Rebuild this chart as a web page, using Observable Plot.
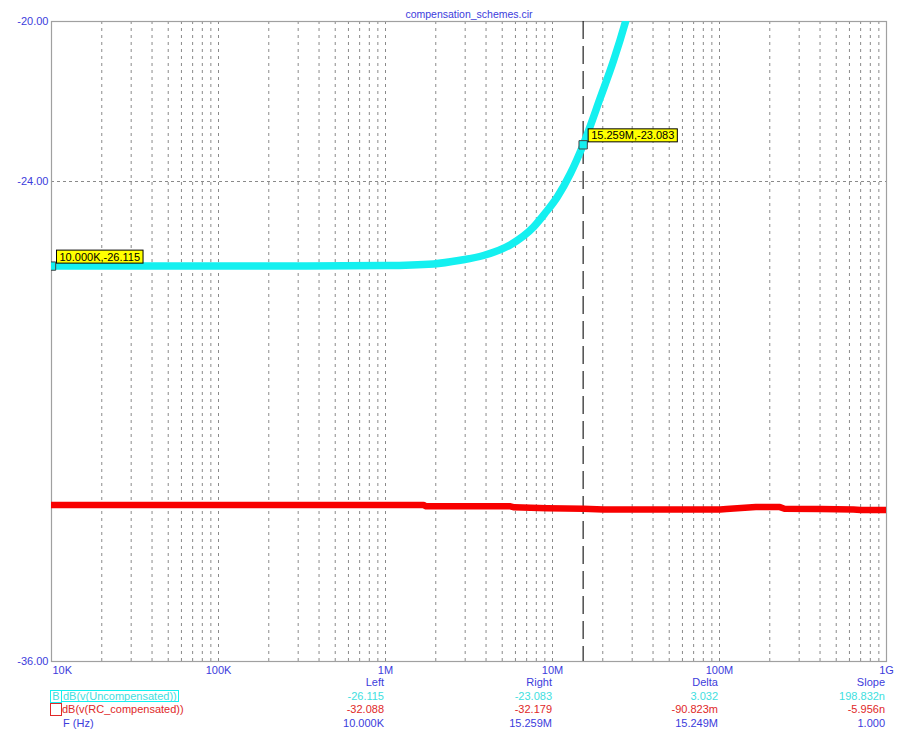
<!DOCTYPE html>
<html>
<head>
<meta charset="utf-8">
<script src="https://cdn.jsdelivr.net/npm/d3@7"></script>
<script src="https://cdn.jsdelivr.net/npm/@observablehq/plot@0.6"></script>
<style>
  html, body { margin: 0; padding: 0; background: #fff; }
  #wrap { position: relative; width: 919px; height: 747px; font-family: "Liberation Sans", Arial, sans-serif; font-size: 11px; }
  #wrap svg { display: block; }
  .lg { position: absolute; line-height: 14px; white-space: nowrap; }
</style>
</head>
<body>
<div id="wrap"></div>
<script>
// ---- data ----
const title = "compensation_schemes.cir";

const uncompFreq = [1e4, 3e4, 1e5, 3e5, 1e6, 1.94e6, 2.8e6, 3.86e6, 5.61e6, 7.69e6, 9.0e6, 10.67e6, 12.8e6, 15.259e6, 19.4e6, 23.2e6, 27.4e6, 30e6];
const uncompDb   = [-26.115, -26.115, -26.115, -26.112, -26.10, -26.06, -25.97, -25.85, -25.58, -25.14, -24.80, -24.39, -23.80, -23.083, -21.89, -20.98, -20.0, -19.4];

const rcFreq = [1e4, 1e5, 1e6, 1.69e6, 1.75e6, 5.6e6, 5.9e6, 9.3e6, 15.259e6, 20.2e6, 60e6, 101e6, 110e6, 165e6, 230e6, 245e6, 400e6, 634e6, 700e6, 1e9];
const rcDb   = [-32.088, -32.088, -32.088, -32.088, -32.12, -32.12, -32.145, -32.17, -32.179, -32.20, -32.20, -32.20, -32.19, -32.14, -32.14, -32.18, -32.19, -32.20, -32.21, -32.21];

const xTickValues = [1e4, 1e5, 1e6, 1e7, 1e8, 1e9];
const xTickLabels = ["10K", "100K", "1M", "10M", "100M", "1G"];
const yTickValues = [-20, -24, -36];
const yGridValues = [-24];
const gridMultiples = [2, 3, 4, 5, 6, 7, 8, 9, 10];
const gridDecades = [1e4, 1e5, 1e6, 1e7, 1e8];

const cursorLeft = {f: 10.000e3, db: -26.115, label: "10.000K,-26.115"};
const cursorRight = {f: 15.259e6, db: -23.083, label: "15.259M,-23.083"};

const legendHeaders = ["Left", "Right", "Delta", "Slope"];
const legendUncomp = ["-26.115", "-23.083", "3.032", "198.832n"];
const legendRC = ["-32.088", "-32.179", "-90.823m", "-5.956n"];
const legendF = ["10.000K", "15.259M", "15.249M", "1.000"];
const seriesNames = ["dB(v(Uncompensated))", "dB(v(RC_compensated))", "F (Hz)"];

// ---- derived tables ----
const uncomp = uncompFreq.map((f, i) => ({f, db: uncompDb[i]}));
const rc = rcFreq.map((f, i) => ({f, db: rcDb[i]}));
const gridX = gridDecades.flatMap(d => gridMultiples.map(m => m * d));
const cursors = [cursorLeft, cursorRight];
const labelOf = new Map(xTickValues.map((v, i) => [v, xTickLabels[i]]));

const CYAN = "#14f0f0", RED = "#f80000", BLUE = "#3c3cdc", CYAN_TXT = "#3ee0e0", RED_TXT = "#e02828";

const chart = Plot.plot({
  width: 919,
  height: 681,
  marginLeft: 51,
  marginRight: 33,
  marginTop: 21,
  marginBottom: 20,
  style: {fontFamily: "Liberation Sans, Arial, sans-serif", fontSize: "11px", background: "#fff"},
  x: {type: "log", domain: [1e4, 1e9]},
  y: {domain: [-36, -20]},
  marks: [
    Plot.ruleX(gridX, {stroke: "#8a8a8a", strokeWidth: 1, strokeDasharray: "3,4"}),
    Plot.ruleY(yGridValues, {stroke: "#8a8a8a", strokeWidth: 1, strokeDasharray: "3,3"}),
    Plot.frame({stroke: "#a0a0a0", strokeWidth: 1.2}),
    Plot.ruleX([cursorRight.f], {stroke: "#222", strokeWidth: 1.2, strokeDasharray: "18,7"}),
    Plot.line(rc, {x: "f", y: "db", stroke: RED, strokeWidth: 6.5, clip: true}),
    Plot.line(uncomp, {x: "f", y: "db", stroke: CYAN, strokeWidth: 7.5, curve: "monotone-x", clip: true}),
    Plot.dot(cursors, {x: "f", y: "db", symbol: "square", r: 4.7, fill: CYAN, stroke: "#444", strokeWidth: 1, clip: true}),
    Plot.text(cursors, {x: "f", y: "db", text: "label", textAnchor: "start", lineAnchor: "middle", dx: 8, dy: -9, fill: "#000", fontSize: 11}),
    Plot.axisY(yTickValues, {tickSize: 0, tickPadding: 3, tickFormat: d => d.toFixed(2), color: BLUE, label: null, fontSize: 11}),
    Plot.axisX(xTickValues.slice(1), {tickSize: 0, tickPadding: 5, tickFormat: d => labelOf.get(d), color: BLUE, label: null, fontSize: 11}),
    Plot.axisX(xTickValues.slice(0, 1), {tickSize: 0, tickPadding: 5, tickFormat: d => labelOf.get(d), color: BLUE, label: null, textAnchor: "start", dx: 1, fontSize: 11}),
    Plot.text([title], {frameAnchor: "top", dy: -7, fill: BLUE, fontSize: 10.5, lineAnchor: "middle"})
  ]
});

const wrap = document.getElementById("wrap");
wrap.appendChild(chart);

// yellow boxes behind cursor labels
const labelSet = new Set(cursors.map(c => c.label));
Array.from(chart.querySelectorAll("text"))
  .filter(t => labelSet.has(t.textContent))
  .forEach(t => {
    const b = t.getBBox();
    const r = document.createElementNS("http://www.w3.org/2000/svg", "rect");
    r.setAttribute("x", b.x - 3);
    r.setAttribute("y", b.y - 0.5);
    r.setAttribute("width", b.width + 6);
    r.setAttribute("height", b.height + 1);
    r.setAttribute("fill", "#ffff00");
    r.setAttribute("stroke", "#000");
    r.setAttribute("stroke-width", "1");
    if (t.getAttribute("transform")) r.setAttribute("transform", t.getAttribute("transform"));
    t.parentNode.insertBefore(r, t);
  });

// ---- legend table below the plot ----
function put(text, {right, left, cy, color, extra}) {
  const s = document.createElement("div");
  s.className = "lg";
  s.textContent = text;
  s.style.color = color;
  s.style.top = (cy - 7) + "px";
  if (right != null) s.style.right = (919 - right) + "px";
  if (left != null) s.style.left = left + "px";
  if (extra) Object.assign(s.style, extra);
  wrap.appendChild(s);
  return s;
}
const colRight = [384, 552, 718, 885];
const rowY = [682, 696, 709, 723];
legendHeaders.forEach((h, i) => put(h, {right: colRight[i], cy: rowY[0], color: BLUE}));
legendUncomp.forEach((h, i) => put(h, {right: colRight[i], cy: rowY[1], color: CYAN_TXT}));
legendRC.forEach((h, i) => put(h, {right: colRight[i], cy: rowY[2], color: RED_TXT}));
legendF.forEach((h, i) => put(h, {right: colRight[i], cy: rowY[3], color: BLUE}));

// row markers
put("B", {left: 50, cy: rowY[1], color: CYAN_TXT, extra: {width: "10px", height: "11px", lineHeight: "11px", border: "1px solid " + CYAN, textAlign: "center", top: (rowY[1] - 6) + "px"}});
put(seriesNames[0], {left: 61, cy: rowY[1], color: CYAN_TXT, extra: {border: "1px solid " + CYAN, padding: "0 1px", lineHeight: "10px", top: (rowY[1] - 6) + "px"}});
put("", {left: 50, cy: rowY[2], color: RED_TXT, extra: {width: "10px", height: "11px", border: "1px solid " + RED_TXT, top: (rowY[2] - 6) + "px"}});
put(seriesNames[1], {left: 62, cy: rowY[2], color: RED_TXT});
put(seriesNames[2], {left: 63, cy: rowY[3], color: BLUE});
</script>
</body>
</html>
